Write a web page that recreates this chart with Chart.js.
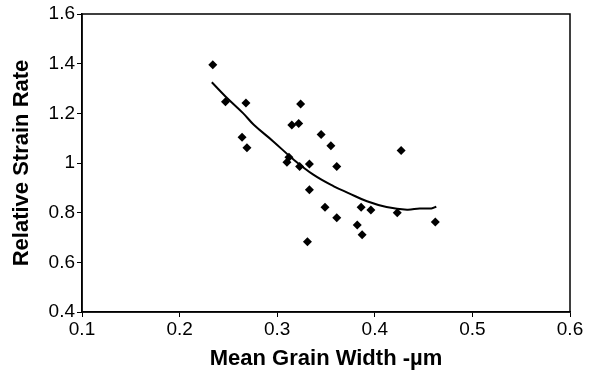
<!DOCTYPE html>
<html>
<head>
<meta charset="utf-8">
<script src="https://cdn.jsdelivr.net/npm/chart.js@4/dist/chart.umd.min.js"></script>
<style>
  html, body { margin: 0; padding: 0; background: #fff; }
  #wrap { width: 600px; height: 384px; }
</style>
</head>
<body>
<div id="wrap"><canvas id="chart"></canvas></div>
<script>
// measured points: grain width (um) vs relative strain rate
const grainWidth = [0.234, 0.247, 0.268, 0.264, 0.269, 0.324, 0.315, 0.322, 0.345, 0.355,
                    0.361, 0.312, 0.310, 0.323, 0.333, 0.333, 0.427, 0.349, 0.361, 0.386,
                    0.396, 0.382, 0.387, 0.331, 0.423, 0.462];
const strainRate = [1.396, 1.247, 1.242, 1.104, 1.061, 1.238, 1.153, 1.159, 1.115, 1.069,
                    0.986, 1.023, 1.003, 0.986, 0.996, 0.892, 1.050, 0.822, 0.780, 0.822,
                    0.811, 0.750, 0.711, 0.683, 0.800, 0.762];

// trend curve
const trendX = [0.233, 0.247, 0.265, 0.276, 0.296, 0.317, 0.337, 0.358, 0.373, 0.392,
                0.412, 0.433, 0.446, 0.458, 0.463];
const trendY = [1.325, 1.268, 1.201, 1.154, 1.087, 1.013, 0.953, 0.906, 0.879, 0.846,
                0.823, 0.812, 0.817, 0.817, 0.824];

const xTicks = [0.1, 0.2, 0.3, 0.4, 0.5, 0.6];
const yTicks = [0.4, 0.6, 0.8, 1, 1.2, 1.4, 1.6];

const scatterPts = grainWidth.map((x, i) => ({ x: x, y: strainRate[i] }));
const trendPts = trendX.map((x, i) => ({ x: x, y: trendY[i] }));

// box around the plot area
const frame = {
    id: 'frame',
    afterDraw(chart) {
        const a = chart.chartArea;
        const ctx = chart.ctx;
        ctx.save();
        ctx.strokeStyle = '#000';
        ctx.lineWidth = 1.5;
        ctx.strokeRect(a.left, a.top, a.right - a.left, a.bottom - a.top);
        ctx.restore();
    }
};

const font = 'Liberation Sans, Arial, sans-serif';

new Chart(document.getElementById('chart'), {
    type: 'scatter',
    data: {
        datasets: [
            {
                data: scatterPts,
                pointStyle: 'rectRot',
                pointRadius: 4.5,
                backgroundColor: '#000',
                borderColor: '#000',
                borderWidth: 0,
                showLine: false
            },
            {
                data: trendPts,
                showLine: true,
                borderColor: '#000',
                borderWidth: 2,
                pointRadius: 0,
                tension: 0.4,
                fill: false
            }
        ]
    },
    options: {
        responsive: true,
        maintainAspectRatio: false,
        animation: false,
        layout: { padding: { top: 14, right: 30, left: 0, bottom: 0 } },
        plugins: { legend: { display: false }, tooltip: { enabled: false } },
        scales: {
            x: {
                type: 'linear',
                min: 0.1,
                max: 0.6,
                afterBuildTicks: s => { s.ticks = xTicks.map(v => ({ value: v })); },
                afterFit: s => { s.height = 72; },
                grid: { drawOnChartArea: false, color: '#000', tickLength: 5, tickColor: '#000' },
                border: { color: '#000', width: 1.5 },
                ticks: {
                    color: '#000',
                    font: { family: font, size: 19 },
                    padding: 1,
                    maxRotation: 0,
                    callback: v => String(v)
                },
                title: {
                    display: true,
                    text: 'Mean Grain Width -\u00b5m',
                    color: '#000',
                    font: { family: font, size: 22, weight: 'bold' },
                    padding: { top: 3, bottom: 12 }
                }
            },
            y: {
                type: 'linear',
                min: 0.4,
                max: 1.6,
                afterBuildTicks: s => { s.ticks = yTicks.map(v => ({ value: v })); },
                afterFit: s => { s.width = 82; },
                grid: { drawOnChartArea: false, color: '#000', tickLength: 5, tickColor: '#000' },
                border: { color: '#000', width: 1.5 },
                ticks: {
                    color: '#000',
                    font: { family: font, size: 19 },
                    padding: 2,
                    callback: v => String(v)
                },
                title: {
                    display: true,
                    text: 'Relative Strain Rate',
                    color: '#000',
                    font: { family: font, size: 22, weight: 'bold' },
                    padding: { top: 9, bottom: 0 }
                }
            }
        }
    },
    plugins: [frame]
});
</script>
</body>
</html>
